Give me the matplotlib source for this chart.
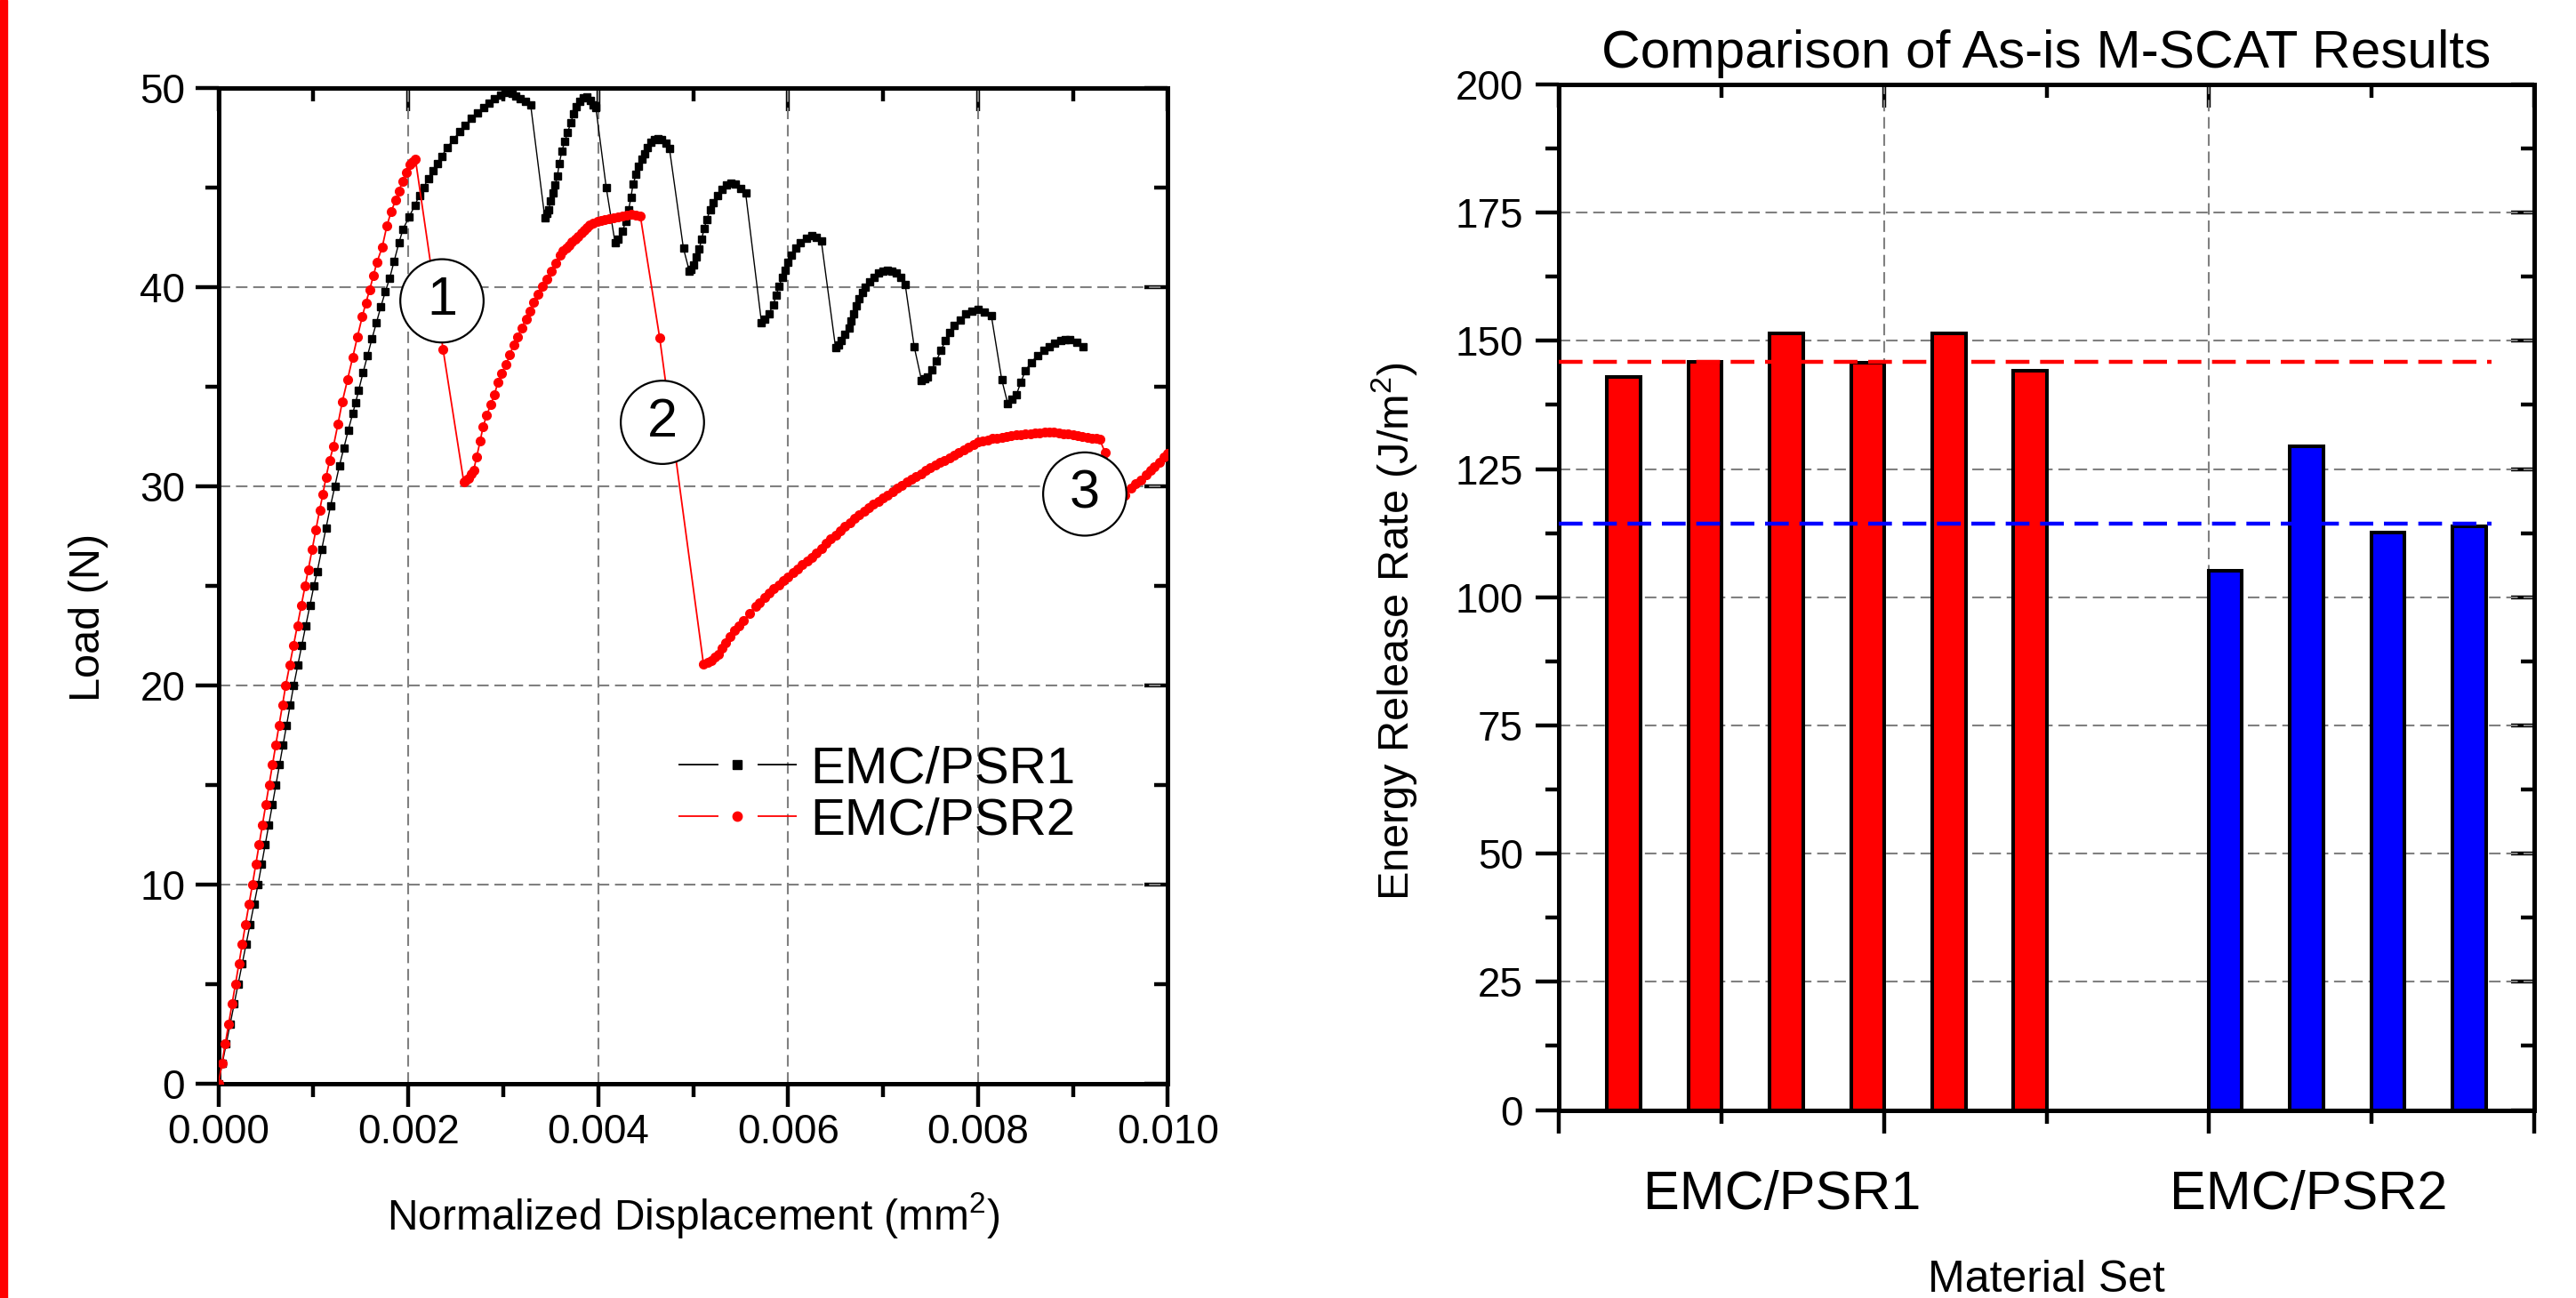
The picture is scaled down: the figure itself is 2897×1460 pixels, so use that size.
"""Load-displacement curves and M-SCAT energy release rate comparison"""

import numpy as np
import matplotlib
matplotlib.use("Agg")
import matplotlib.pyplot as plt
from matplotlib.lines import Line2D
from matplotlib.patches import Rectangle
from matplotlib.ticker import MultipleLocator, FormatStrFormatter

plt.rcParams['font.family'] = ['Liberation Sans', 'DejaVu Sans']
plt.rcParams['mathtext.default'] = 'regular'

# ---- left panel: load vs normalized displacement (x in 1e-3 mm^2, y in N)
psr1_x = [0.000, 0.040, 0.082, 0.124, 0.166, 0.207, 0.249, 0.291, 0.333, 0.375,
          0.417, 0.455, 0.493, 0.530, 0.568, 0.605, 0.643, 0.680, 0.718, 0.755,
          0.793, 0.835, 0.877, 0.920, 0.963, 1.006, 1.040, 1.087, 1.133, 1.180,
          1.227, 1.273, 1.320, 1.367, 1.414, 1.445, 1.476, 1.523, 1.570, 1.617,
          1.663, 1.710, 1.757, 1.804, 1.851, 1.900, 1.944, 2.006, 2.069, 2.116,
          2.163, 2.210, 2.256, 2.303, 2.350, 2.410, 2.475, 2.540, 2.600, 2.660,
          2.725, 2.790, 2.850, 2.910, 2.975, 3.038, 3.090, 3.131, 3.180, 3.230,
          3.288, 3.438, 3.460, 3.475, 3.500, 3.522, 3.545, 3.569, 3.590, 3.616,
          3.647, 3.678, 3.710, 3.741, 3.770, 3.803, 3.840, 3.881, 3.920, 3.950,
          3.975, 4.084, 4.178, 4.210, 4.256, 4.290, 4.319, 4.345, 4.366, 4.400,
          4.428, 4.460, 4.491, 4.520, 4.553, 4.590, 4.631, 4.670, 4.710, 4.750,
          4.897, 4.959, 4.980, 5.006, 5.035, 5.063, 5.090, 5.116, 5.145, 5.178,
          5.215, 5.256, 5.300, 5.350, 5.400, 5.444, 5.500, 5.553, 5.720, 5.750,
          5.797, 5.844, 5.875, 5.906, 5.940, 5.969, 6.000, 6.031, 6.080, 6.125,
          6.190, 6.250, 6.300, 6.350, 6.500, 6.530, 6.563, 6.600, 6.641, 6.665,
          6.688, 6.720, 6.750, 6.780, 6.813, 6.860, 6.906, 6.950, 7.000, 7.050,
          7.094, 7.140, 7.188, 7.234, 7.328, 7.406, 7.440, 7.469, 7.510, 7.563,
          7.610, 7.656, 7.700, 7.750, 7.810, 7.875, 7.940, 8.000, 8.070, 8.141,
          8.250, 8.313, 8.360, 8.406, 8.450, 8.500, 8.560, 8.625, 8.690, 8.750,
          8.810, 8.875, 8.920, 8.969, 9.040, 9.109]
psr1_load = [0.0, 1.0, 2.0, 3.0, 4.0, 5.0, 6.0, 7.0, 8.0, 9.0,
             10.0, 11.0, 12.0, 13.0, 14.0, 15.0, 16.0, 17.0, 18.0, 19.0,
             20.0, 21.0, 22.0, 23.0, 24.0, 25.0, 25.7, 26.8, 27.9, 29.0,
             30.0, 31.0, 31.9, 32.8, 33.65, 34.2, 34.8, 35.7, 36.55, 37.4,
             38.2, 39.0, 39.75, 40.45, 41.3, 42.2, 42.9, 43.5, 44.1, 44.6,
             45.0, 45.45, 45.85, 46.2, 46.55, 47.0, 47.4, 47.8, 48.1, 48.45,
             48.75, 49.0, 49.25, 49.45, 49.65, 49.75, 49.7, 49.6, 49.45, 49.3,
             49.15, 43.45, 43.7, 43.85, 44.3, 44.7, 45.1, 45.55, 46.2, 46.8,
             47.3, 47.75, 48.25, 48.7, 49.05, 49.3, 49.5, 49.55, 49.35, 49.15,
             49.0, 45.0, 42.2, 42.4, 42.8, 43.3, 43.85, 44.5, 45.15, 45.65,
             46.05, 46.4, 46.7, 47.0, 47.25, 47.4, 47.45, 47.4, 47.2, 46.95,
             41.95, 40.8, 40.9, 41.1, 41.5, 41.9, 42.4, 42.95, 43.4, 43.85,
             44.25, 44.6, 44.9, 45.1, 45.2, 45.15, 44.95, 44.7, 38.2, 38.4,
             38.65, 39.1, 39.6, 40.05, 40.5, 40.85, 41.25, 41.6, 41.95, 42.2,
             42.45, 42.57, 42.5, 42.3, 36.95, 37.1, 37.3, 37.6, 37.95, 38.3,
             38.65, 39.05, 39.4, 39.7, 39.97, 40.25, 40.5, 40.68, 40.8, 40.82,
             40.8, 40.68, 40.5, 40.1, 37.0, 35.3, 35.4, 35.5, 35.85, 36.3,
             36.8, 37.3, 37.7, 38.05, 38.35, 38.63, 38.8, 38.85, 38.75, 38.55,
             35.35, 34.15, 34.35, 34.6, 35.2, 35.8, 36.2, 36.55, 36.8, 37.0,
             37.17, 37.3, 37.35, 37.37, 37.2, 37.0]

psr2_x = [0.000, 0.036, 0.072, 0.108, 0.145, 0.180, 0.215, 0.250, 0.285, 0.322,
          0.358, 0.393, 0.428, 0.463, 0.498, 0.533, 0.568, 0.603, 0.638, 0.674,
          0.709, 0.750, 0.791, 0.832, 0.873, 0.914, 0.946, 0.986, 1.026, 1.066,
          1.100, 1.133, 1.172, 1.211, 1.258, 1.305, 1.360, 1.414, 1.464, 1.514,
          1.553, 1.592, 1.631, 1.670, 1.725, 1.773, 1.820, 1.866, 1.900, 1.938,
          1.975, 2.013, 2.045, 2.075, 2.366, 2.584, 2.610, 2.631, 2.660, 2.688,
          2.719, 2.756, 2.788, 2.825, 2.869, 2.906, 2.944, 2.981, 3.031, 3.069,
          3.109, 3.153, 3.194, 3.241, 3.278, 3.319, 3.366, 3.413, 3.459, 3.506,
          3.553, 3.600, 3.630, 3.663, 3.695, 3.725, 3.755, 3.788, 3.820, 3.850,
          3.880, 3.913, 3.950, 3.991, 4.030, 4.069, 4.115, 4.163, 4.210, 4.256,
          4.300, 4.350, 4.400, 4.444, 4.647, 5.109, 5.150, 5.188, 5.230, 5.266,
          5.300, 5.344, 5.390, 5.438, 5.485, 5.531, 5.590, 5.656, 5.700, 5.750,
          5.800, 5.850, 5.900, 5.950, 6.000, 6.050, 6.100, 6.150, 6.200, 6.250,
          6.300, 6.350, 6.400, 6.450, 6.500, 6.550, 6.600, 6.650, 6.700, 6.750,
          6.800, 6.850, 6.900, 6.950, 7.000, 7.050, 7.100, 7.150, 7.200, 7.250,
          7.300, 7.350, 7.400, 7.450, 7.500, 7.550, 7.600, 7.650, 7.700, 7.750,
          7.800, 7.850, 7.900, 7.950, 8.000, 8.050, 8.100, 8.150, 8.200, 8.250,
          8.300, 8.350, 8.400, 8.450, 8.500, 8.550, 8.600, 8.650, 8.700, 8.750,
          8.800, 8.850, 8.900, 8.950, 9.000, 9.050, 9.100, 9.150, 9.200, 9.250,
          9.281, 9.338, 9.500, 9.550, 9.610, 9.660, 9.719, 9.770, 9.820, 9.860,
          9.910, 9.960, 10.000, 10.100]
psr2_load = [0.0, 1.0, 2.0, 3.0, 4.0, 5.0, 6.0, 7.0, 8.0, 9.0,
             10.0, 11.0, 12.0, 13.0, 14.0, 15.0, 16.0, 17.0, 18.0, 19.0,
             20.0, 21.0, 22.0, 23.0, 24.0, 25.0, 25.8, 26.8, 27.8, 28.8,
             29.6, 30.45, 31.3, 32.0, 33.1, 34.25, 35.35, 36.47, 37.5, 38.5,
             39.2, 39.85, 40.55, 41.25, 42.0, 43.05, 43.8, 44.35, 44.8, 45.3,
             45.75, 46.15, 46.3, 46.4, 36.85, 30.2, 30.3, 30.4, 30.6, 30.8,
             31.45, 32.25, 33.0, 33.55, 34.1, 34.6, 35.2, 35.65, 36.1, 36.6,
             37.1, 37.5, 37.95, 38.4, 38.8, 39.25, 39.65, 40.05, 40.4, 40.8,
             41.2, 41.6, 41.8, 41.95, 42.1, 42.25, 42.4, 42.55, 42.7, 42.85,
             42.97, 43.1, 43.2, 43.3, 43.35, 43.38, 43.42, 43.45, 43.5, 43.55,
             43.6, 43.65, 43.6, 43.55, 37.45, 21.05, 21.15, 21.25, 21.4, 21.55,
             21.85, 22.15, 22.45, 22.75, 23.0, 23.25, 23.6, 23.95, 24.15, 24.4,
             24.63, 24.85, 25.05, 25.25, 25.45, 25.65, 25.85, 26.05, 26.22, 26.42,
             26.65, 26.88, 27.12, 27.35, 27.55, 27.75, 27.96, 28.17, 28.36, 28.55,
             28.72, 28.9, 29.08, 29.24, 29.4, 29.56, 29.72, 29.88, 30.04, 30.2,
             30.35, 30.5, 30.63, 30.77, 30.91, 31.05, 31.18, 31.3, 31.42, 31.55,
             31.7, 31.83, 31.96, 32.08, 32.2, 32.27, 32.33, 32.38, 32.42, 32.46,
             32.5, 32.53, 32.56, 32.59, 32.62, 32.64, 32.66, 32.68, 32.7, 32.7,
             32.69, 32.67, 32.64, 32.61, 32.57, 32.54, 32.5, 32.46, 32.42, 32.38,
             32.35, 31.7, 29.28, 29.55, 29.9, 30.1, 30.3, 30.55, 30.78, 30.95,
             31.2, 31.45, 31.65, 32.1]

event_labels = ['1', '2', '3']
event_x = [2.354, 4.676, 9.125]
event_load = [39.3, 33.2, 29.6]

# ---- right panel: energy release rate per specimen (J/m^2)
series_names = ['EMC/PSR1', 'EMC/PSR2']
psr1_G = [143.0, 145.9, 151.4, 145.7, 151.5, 144.1]
psr2_G = [105.2, 129.4, 112.6, 113.9]
psr1_G_avg = 145.9
psr2_G_avg = 114.4

RED = '#ff0000'
BLUE = '#0000ff'
GRID = dict(color='#808080', linestyle=(0, (6.2, 3.1)), linewidth=1.5)


def mirror_ticks(ax, xmaj, xmin, ymaj, ymin):
    """Origin style: outward ticks bottom/left, inward ticks top/right"""
    ax.tick_params(which='major', length=19, width=3.2)
    ax.tick_params(which='minor', length=10.5, width=3.2)
    top = ax.secondary_xaxis('top')
    top.xaxis.set_major_locator(MultipleLocator(xmaj))
    top.xaxis.set_minor_locator(MultipleLocator(xmin))
    top.tick_params(which='both', direction='in', labeltop=False, width=3.2)
    top.tick_params(which='major', length=19)
    top.tick_params(which='minor', length=10.5)
    top.spines['top'].set_linewidth(3.6)
    right = ax.secondary_yaxis('right')
    right.yaxis.set_major_locator(MultipleLocator(ymaj))
    right.yaxis.set_minor_locator(MultipleLocator(ymin))
    right.tick_params(which='both', direction='in', labelright=False, width=3.2)
    right.tick_params(which='major', length=19)
    right.tick_params(which='minor', length=10.5)
    right.spines['right'].set_linewidth(3.6)
    for s in ax.spines.values():
        s.set_linewidth(3.6)


fig = plt.figure(figsize=(28.97, 14.60), dpi=100)
fig.patches.append(Rectangle((0, 0), 8 / 2897, 1, transform=fig.transFigure,
                             color=RED, zorder=10))

# ------------------------------------------------------------- left panel
ax1 = fig.add_axes([0.08481, 0.16527, 0.36855, 0.76712])
ax1.set_axisbelow(True)
ax1.grid(which='major', **GRID)

bx = np.array(psr1_x) * 1e-3
rx = np.array(psr2_x) * 1e-3
ax1.plot(bx, psr1_load, color='black', lw=1.0, marker='s', ms=6, zorder=3)
ax1.plot(rx, psr2_load, color=RED, lw=1.3, marker='o', ms=7, zorder=4)

for lab, ex, ey in zip(event_labels, event_x, event_load):
    ax1.text(ex * 1e-3, ey, lab, fontsize=44, ha='center', va='center', zorder=6,
             bbox=dict(boxstyle='circle,pad=0.3', fc='white', ec='black', lw=1.6))

ax1.set_xlim(0, 0.010)
ax1.set_ylim(0, 50)
ax1.xaxis.set_major_locator(MultipleLocator(0.002))
ax1.xaxis.set_minor_locator(MultipleLocator(0.001))
ax1.yaxis.set_major_locator(MultipleLocator(10))
ax1.yaxis.set_minor_locator(MultipleLocator(5))
ax1.xaxis.set_major_formatter(FormatStrFormatter('%.3f'))
mirror_ticks(ax1, 0.002, 0.001, 10, 5)
ax1.tick_params(axis='x', labelsize=33, pad=5)
ax1.tick_params(axis='y', labelsize=33, pad=8)

ax1.set_xlabel('Normalized Displacement (mm$^2$)', fontsize=34.5, va='baseline')
ax1.xaxis.set_label_coords(0.5, -0.1467)
ax1.set_ylabel('Load (N)', fontsize=35, va='center')
ax1.yaxis.set_label_coords(-0.137, 0.468)

# broken "— ■ —" legend keys like the original
dash = (0, (24.9, 24.4))
handles = [Line2D([], [], color='black', lw=1.3, ls=dash, marker='s', ms=7),
           Line2D([], [], color=RED, lw=1.3, ls=dash, marker='o', ms=7.5)]
ax1.legend(handles, series_names, loc='center left', bbox_to_anchor=(0.4845, 0.2895),
           frameon=False, fontsize=42, borderpad=0, borderaxespad=0,
           handlelength=2.28, handletextpad=0.26, labelspacing=0.08, numpoints=1)

# ------------------------------------------------------------ right panel
ax2 = fig.add_axes([0.60511, 0.14486, 0.37867, 0.79007])
ax2.set_axisbelow(True)
ax2.grid(which='major', **GRID)

pitch = 0.5
red_pos = 0.4 + pitch * np.arange(len(psr1_G))
blue_pos = 4.1 + pitch * np.arange(len(psr2_G))
ax2.bar(red_pos, psr1_G, width=0.205, color=RED, edgecolor='black', lw=2.9, zorder=3)
ax2.bar(blue_pos, psr2_G, width=0.205, color=BLUE, edgecolor='black', lw=2.9, zorder=3)
ax2.hlines(psr1_G_avg, 0, 5.74, colors=RED, linestyles=(0, (6, 2.7)), lw=3.2, zorder=4)
ax2.hlines(psr2_G_avg, 0, 5.74, colors=BLUE, linestyles=(0, (6, 2.7)), lw=3.2, zorder=4)

ax2.set_xlim(0, 6)
ax2.set_ylim(0, 200)
ax2.xaxis.set_major_locator(MultipleLocator(2))
ax2.xaxis.set_minor_locator(MultipleLocator(1))
ax2.yaxis.set_major_locator(MultipleLocator(25))
ax2.yaxis.set_minor_locator(MultipleLocator(12.5))
mirror_ticks(ax2, 2, 1, 25, 12.5)
ax2.tick_params(axis='x', labelbottom=False)
ax2.tick_params(axis='y', labelsize=33, pad=10)

for name, gx in zip(series_names, [1.374, 4.61]):
    ax2.text(gx, -0.0963, name, transform=ax2.get_xaxis_transform(),
             fontsize=44, ha='center', va='baseline')

ax2.set_title('Comparison of As-is M-SCAT Results', fontsize=43.5, pad=14)
ax2.set_xlabel('Material Set', fontsize=36, va='baseline')
ax2.xaxis.set_label_coords(0.5, -0.1774)
ax2.set_ylabel('Energy Release Rate (J/m$^2$)', fontsize=35, va='center')
ax2.yaxis.set_label_coords(-0.1686, 0.4668)

fig.savefig('out.png', dpi=100)
